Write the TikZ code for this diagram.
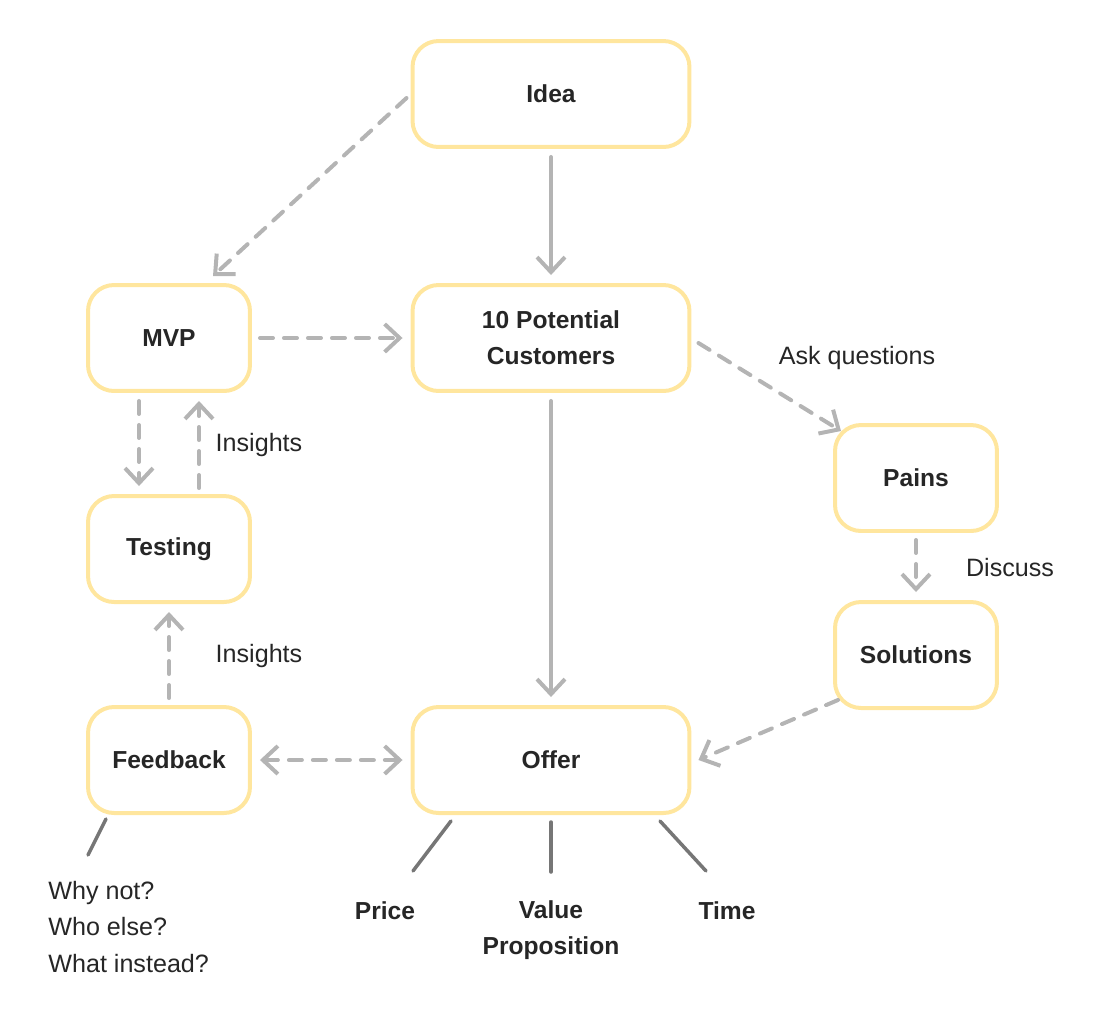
\documentclass[tikz,border=0pt]{standalone}
\usepackage{fontspec}
\setmainfont{Liberation Sans}
\usetikzlibrary{calc,arrows.meta}

\definecolor{padline}{HTML}{FFE69E}
\definecolor{flowgray}{HTML}{B4B4B4}
\definecolor{stemgray}{HTML}{767676}
\definecolor{ink}{HTML}{262626}

\begin{document}
\begin{tikzpicture}[x=0.02cm,y=-0.02cm,
		card/.style={draw=padline, line width=0.08cm, rounded corners=0.52cm, minimum height=2.12cm, align=center, text=ink, font=\fontsize{14}{20.5}\selectfont\bfseries},
		widecard/.style={card, minimum width=5.54cm},
		slimcard/.style={card, minimum width=3.24cm},
		flow/.style={draw=flowgray, line width=0.08cm, line cap=round, -{Straight Barb[length=0.3cm, width=0.56cm]}},
		hint/.style={draw=flowgray, line width=0.08cm, line cap=round, dash pattern=on 0.26cm off 0.22cm, -{Straight Barb[length=0.3cm, width=0.56cm]}},
		stem/.style={draw=stemgray, line width=0.07cm, line cap=round},
		note/.style={text=ink, font=\fontsize{14.3}{21}\selectfont},
		facet/.style={text=ink, align=center, font=\fontsize{14}{20.5}\selectfont\bfseries}]
					\useasboundingbox (0,0) rectangle (1106,1022);
					
					\node[widecard] (idea) at (551,94) {Idea};
					\node[widecard] (cust) at (551,338) {10 Potential\\Customers};
					\node[widecard] (offer) at (551,760) {Offer};
					
					\node[slimcard] (mvp) at (169,338) {MVP};
					\node[slimcard] (test) at (169,549) {Testing};
					\node[slimcard] (feed) at (169,760) {Feedback};
					
					\node[slimcard] (pains) at (916,478) {Pains};
					\node[slimcard] (sol) at (916,655) {Solutions};
					
					\draw[flow, shorten <=0.16cm, shorten >=0.16cm] (idea.south) -- (cust.north);
					\draw[flow, shorten <=0.16cm, shorten >=0.16cm] (cust.south) -- (offer.north);
					
					\draw[hint] ($(idea.west)+(-4,4)$) -- ($(mvp.north)+(44,-7)$);
					\draw[hint, shorten <=0.16cm, shorten >=0.16cm] (mvp.east) -- (cust.west);
					\draw[hint] ($(cust.east)+(7,5)$) -- ($(pains.north west)+(8,8)$);
					\node[note] (ask) at (857,358) {Ask questions};
					
					\draw[hint, shorten <=0.16cm, shorten >=0.16cm] ($(mvp.south)+(-30,0)$) -- ($(test.north)+(-30,0)$);
					\draw[hint, shorten <=0.12cm, shorten >=0.16cm] ($(test.north)+(30,0)$) -- ($(mvp.south)+(30,0)$);
					\node[note] (ins1) at (259,445) {Insights};
					
					\draw[hint, shorten <=0.14cm, shorten >=0.16cm] (feed.north) -- (test.south);
					\node[note] (ins2) at (259,656) {Insights};
					
					\draw[hint, shorten <=0.14cm, shorten >=0.16cm] (pains.south) -- (sol.north);
					\node[note] (disc) at (1010,568) {Discuss};
					
					\draw[hint] ($(sol.south west)+(5,-10)$) -- ($(offer.east)+(7,0)$);
					\draw[hint, {Straight Barb[length=0.3cm, width=0.56cm]}-{Straight Barb[length=0.3cm, width=0.56cm]}, shorten <=0.16cm, shorten >=0.16cm] (feed.east) -- (offer.west);
					
					\node[note, anchor=west, align=left, inner sep=0pt] (asks) at (48,927) {Why not?\\Who else?\\What instead?};
					\draw[stem] ($(feed.south)+(-63,4)$) -- ($(feed.south)+(-81,40)$);
					
					\node[facet] (price) at (385,911) {Price};
					\node[facet] (value) at (551,930) {Value\\Proposition};
					\node[facet] (time) at (727,911) {Time};
					\draw[stem] ($(offer.south)+(-100,6)$) -- ($(offer.south)+(-138,56)$);
					\draw[stem] ($(offer.south)+(0,7)$) -- ($(offer.south)+(0,57)$);
					\draw[stem] ($(offer.south)+(109,6)$) -- ($(offer.south)+(155,56)$);
					\end{tikzpicture}
\end{document}
